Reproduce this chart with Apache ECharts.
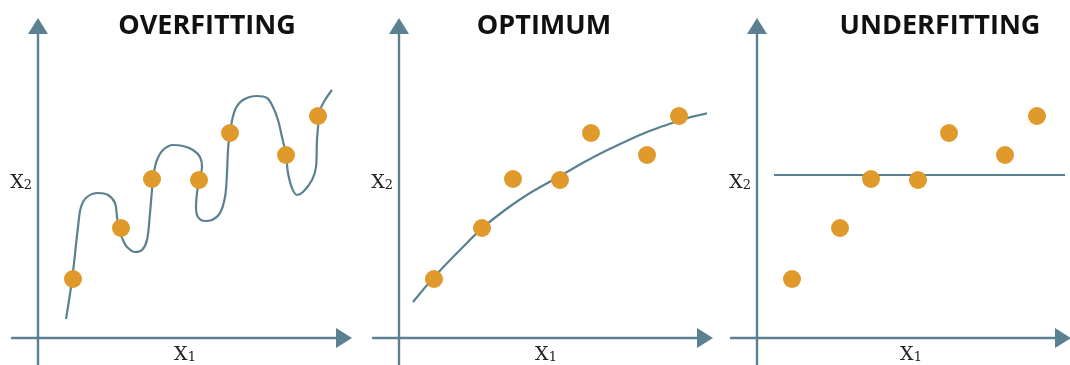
<!DOCTYPE html>
<html>
<head>
<meta charset="utf-8">
<script src="https://cdn.jsdelivr.net/npm/echarts@6/dist/echarts.min.js"></script>
<style>
  html, body { margin: 0; padding: 0; background: #fff; }
  #chart { width: 1070px; height: 365px; }
</style>
</head>
<body>
<div id="chart"></div>
<script>
// the same seven samples in every panel (x1, x2)
var sampleX = [35, 83, 114, 161, 192, 248, 280];
var sampleY = [59, 110, 159, 158, 205, 183, 222];

// wiggly curve of the overfitting panel
var overX = [28, 34, 40, 43, 49, 60, 70, 77, 79, 81, 85, 89, 97, 104, 109, 112, 114, 116, 119, 125, 135, 145, 155, 162, 164, 161, 159, 158, 160, 167, 174, 182, 187, 189, 190, 192, 197, 205, 219, 229, 235, 240, 244, 248, 250, 254, 259, 265, 274, 278, 279, 281, 282, 287, 294];
var overY = [19, 58, 111, 131, 141, 145, 143, 135, 121, 108, 98, 91, 86, 88, 98, 125, 148, 166, 178, 188, 193, 192, 188, 181, 171, 157, 145, 131, 121, 117, 118, 125, 141, 165, 188, 206, 228, 238, 242, 240, 231, 218, 201, 183, 165, 150, 143, 146, 158, 171, 198, 221, 228, 238, 248];

// smooth curve of the optimum panel
var optX = [14, 56, 106, 161, 219, 279, 316];
var optY = [36, 83, 128, 162, 193, 217, 226];

// flat line of the underfitting panel
var underX = [17, 316];
var underY = [163, 163];

var titles = ['OVERFITTING', 'OPTIMUM', 'UNDERFITTING'];
var titleX = [207, 544, 940];
var gridLeft = [12, 373, 731];
var originX = [38, 399, 757];
var x1LabelX = [185, 546, 911];

var axisColor = '#5b8091';
var dotColor = '#e09a2b';

function pairs(xs, ys) {
  var out = [];
  for (var i = 0; i < xs.length; i++) out.push([xs[i], ys[i]]);
  return out;
}

// big X with a small figure sharing its baseline
var nameRich = {
  x: { fontFamily: 'DejaVu Serif', fontSize: 19, fill: '#222', verticalAlign: 'bottom', lineHeight: 19 },
  s: { fontFamily: 'DejaVu Serif', fontSize: 13, fill: '#222', verticalAlign: 'bottom', lineHeight: 16 }
};

var grids = [], xAxes = [], yAxes = [], series = [], graphics = [];
var curves = [
  { data: pairs(overX, overY), smooth: 0.35 },
  { data: pairs(optX, optY), smooth: 0.5 },
  { data: pairs(underX, underY), smooth: false }
];

for (var p = 0; p < 3; p++) {
  grids.push({ left: gridLeft[p], top: 26, width: 332, bottom: 0, containLabel: false, outerBoundsMode: 'none' });
  xAxes.push({
    type: 'value', gridIndex: p, min: -26, max: 306,
    axisLine: { onZero: true, symbol: ['none', 'triangle'], symbolSize: [20, 16], lineStyle: { color: axisColor, width: 2.4 } },
    axisTick: { show: false }, axisLabel: { show: false }, splitLine: { show: false }
  });
  yAxes.push({
    type: 'value', gridIndex: p, min: -27, max: 312,
    axisLine: { onZero: true, symbol: ['none', 'triangle'], symbolSize: [20, 16], lineStyle: { color: axisColor, width: 2.4 } },
    axisTick: { show: false }, axisLabel: { show: false }, splitLine: { show: false }
  });
  series.push({
    type: 'line', xAxisIndex: p, yAxisIndex: p,
    data: curves[p].data, smooth: curves[p].smooth, showSymbol: false,
    clip: false, silent: true,
    lineStyle: { color: axisColor, width: 2.2 }, z: 2
  });
  series.push({
    type: 'scatter', xAxisIndex: p, yAxisIndex: p,
    data: pairs(sampleX, sampleY), symbolSize: 18,
    itemStyle: { color: dotColor, opacity: 1 }, z: 3
  });
  graphics.push({
    type: 'text', x: titleX[p], y: 26,
    style: {
      text: titles[p], fill: '#111', font: 'bold 27px "Open Sans"',
      textAlign: 'center', textVerticalAlign: 'middle'
    }
  });
  graphics.push({
    type: 'text', x: originX[p] - 6, y: 183,
    style: { text: '{x|X}{s|2}', rich: nameRich, textAlign: 'right', textVerticalAlign: 'middle' }
  });
  graphics.push({
    type: 'text', x: x1LabelX[p], y: 355,
    style: { text: '{x|X}{s|1}', rich: nameRich, textAlign: 'center', textVerticalAlign: 'middle' }
  });
}

var myChart = echarts.init(document.getElementById('chart'));
myChart.setOption({
  animation: false,
  grid: grids,
  xAxis: xAxes,
  yAxis: yAxes,
  series: series,
  graphic: graphics
});
</script>
</body>
</html>
